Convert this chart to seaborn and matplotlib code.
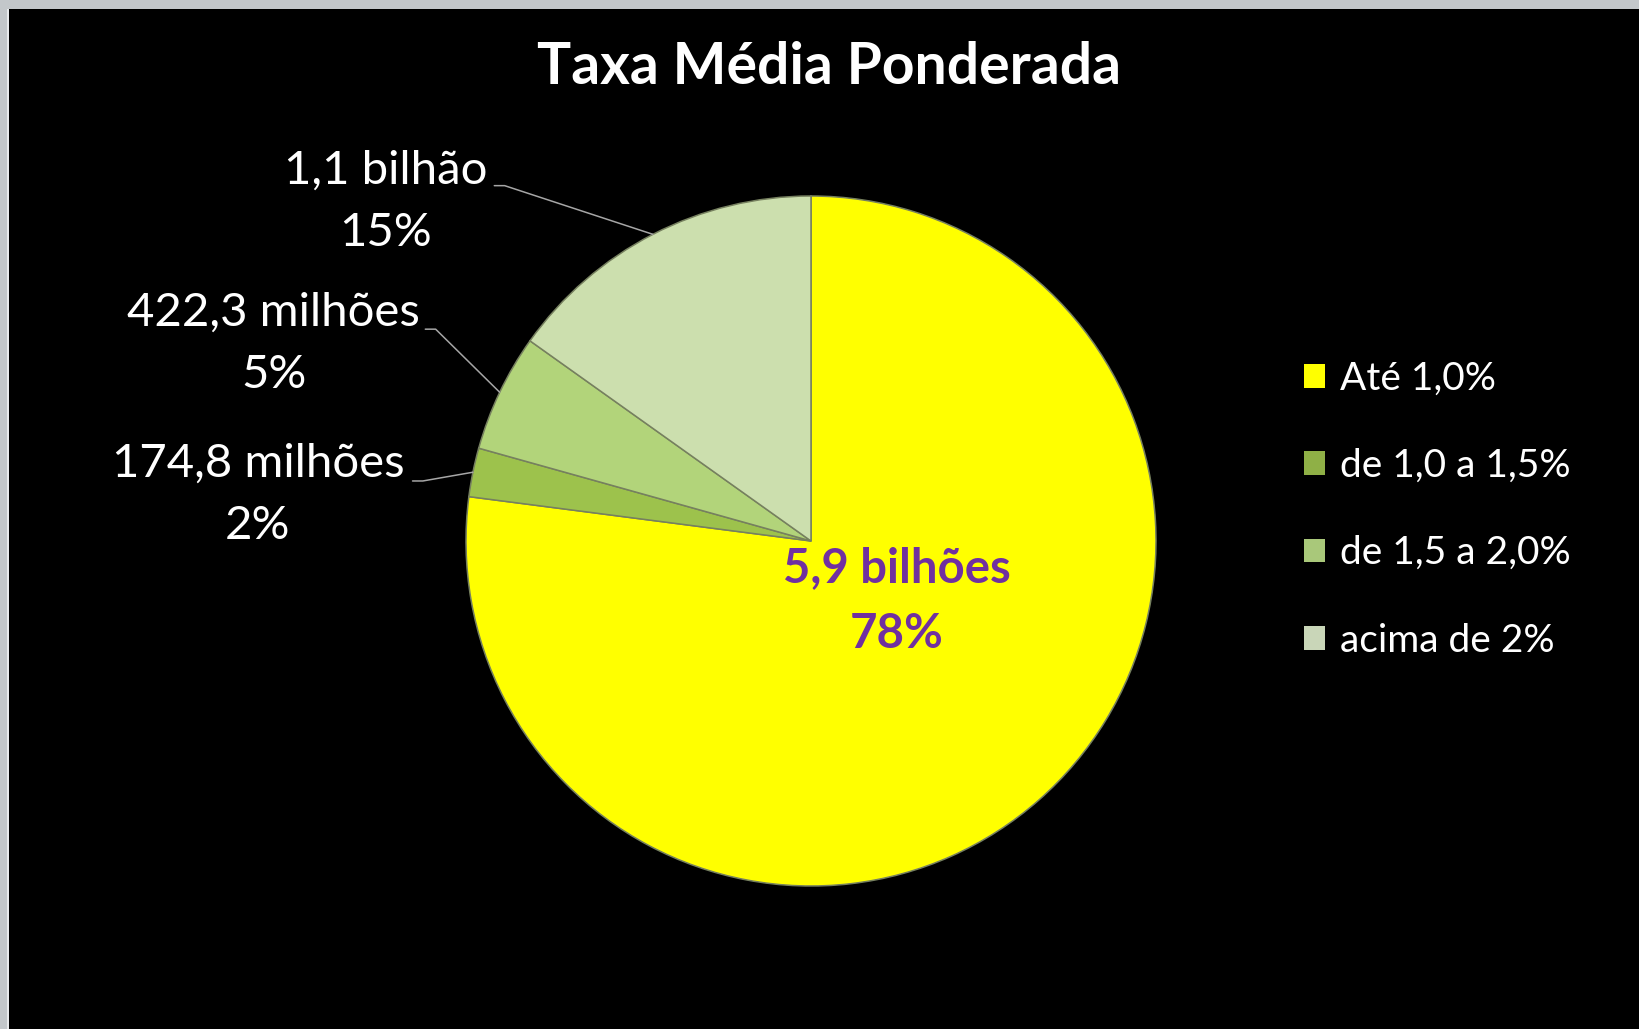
import numpy as np
import matplotlib
matplotlib.use("Agg")
import matplotlib.pyplot as plt
from matplotlib.patches import Rectangle, Patch
import seaborn as sns

# ---- data ----
categories = ["Até 1,0%", "de 1,0 a 1,5%", "de 1,5 a 2,0%", "acima de 2%"]
values_mi = [5900.0, 174.8, 422.3, 1160.0]          # R$ milhões (slice sizes)
value_labels = ["5,9 bilhões", "174,8 milhões", "422,3 milhões", "1,1 bilhão"]
pct_labels = ["78%", "2%", "5%", "15%"]
colors = ["#FFFF00", "#9DC24C", "#B2D47A", "#CCDFAE"]
legend_colors = ["#FFFF00", "#8FB046", "#A9C87A", "#C9D6B8"]
title = "Taxa Média Ponderada"

sns.set_theme(style="dark")
plt.rcParams["font.family"] = ["Lato", "DejaVu Sans"]

W, H = 1639, 1029
fig = plt.figure(figsize=(W / 100, H / 100), dpi=100, facecolor="black")
# screenshot border at top/left
fig.patches.append(Rectangle((0, 1 - 9 / H), 1, 9 / H, transform=fig.transFigure,
                             facecolor="#C3C7CA", edgecolor="none", zorder=-5))
fig.patches.append(Rectangle((0, 0), 7 / W, 1, transform=fig.transFigure,
                             facecolor="#C3C7CA", edgecolor="none", zorder=-5))
fig.patches.append(Rectangle((7 / W, 0), 1.5 / W, 1 - 9 / H, transform=fig.transFigure,
                             facecolor="#E8EAEC", edgecolor="none", zorder=-5))

cx, cy, r = 811, 541, 345
ax = fig.add_axes([(cx - r) / W, (H - cy - r) / H, 2 * r / W, 2 * r / H])
ax.set_facecolor("none")
ax.set_zorder(2)

wedges, _ = ax.pie(values_mi, colors=colors, startangle=90, counterclock=False,
                   wedgeprops=dict(edgecolor="#76805F", linewidth=1.1))
ax.set_xlim(-1, 1)
ax.set_ylim(-1, 1)
ax.set_aspect("equal")
ax.axis("off")

# title
fig.text(0.5055, 1 - 68 / H, title, ha="center", va="center", color="white",
         fontsize=41, fontweight="bold")

# center label for the big slice
ax.text(0.249, -0.174, value_labels[0] + "\n" + pct_labels[0], ha="center", va="center",
        color="#7030A0", fontsize=34, fontweight="bold", linespacing=1.6)

# outside labels (layout positions in axes data units)
label_pos = {1: (-1.603, 0.133), 2: (-1.557, 0.571), 3: (-1.232, 0.983)}
line_start = {1: (-1.155, 0.174), 2: (-1.118, 0.614), 3: (-0.918, 1.030)}
for i, (lx, ly) in label_pos.items():
    ax.text(lx, ly, value_labels[i] + "\n" + pct_labels[i], ha="center", va="center",
            color="white", fontsize=34, linespacing=1.6, clip_on=False)
    w = wedges[i]
    mid = np.deg2rad((w.theta1 + w.theta2) / 2)
    ex, ey = np.cos(mid), np.sin(mid)
    sx, sy = line_start[i]
    ax.plot([sx, sx + 0.03, ex], [sy, sy, ey], color="#A6A6A6", lw=1.1, clip_on=False)

# legend
handles = [Patch(facecolor=c, edgecolor="none") for c in legend_colors]
fig.legend(handles, categories, loc="upper left",
           bbox_to_anchor=(1288 / W, 1 - 345 / H), frameon=False,
           fontsize=28, labelcolor="white", handlelength=0.55, handleheight=0.55,
           handletextpad=0.4, labelspacing=1.32, borderaxespad=0)

fig.savefig("out.png", dpi=100, facecolor=fig.get_facecolor())
